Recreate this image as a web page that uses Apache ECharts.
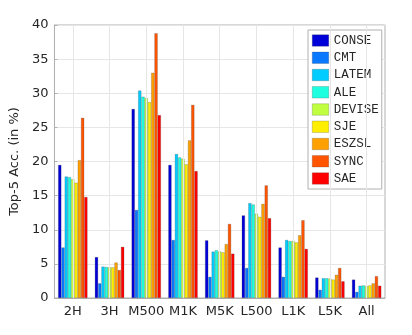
<!DOCTYPE html>
<html>
<head>
<meta charset="utf-8">
<script src="https://cdn.jsdelivr.net/npm/echarts@6/dist/echarts.min.js"></script>
<style>
  html, body { margin: 0; padding: 0; background: #fff; }
  #chart { width: 412px; height: 335px; }
</style>
</head>
<body>
<div id="chart"></div>
<script>
// 类别
const categories = ["2H", "3H", "M500", "M1K", "M5K", "L500", "L1K", "L5K", "All"];
// 方法名
const methods = ["CONSE", "CMT", "LATEM", "ALE", "DEVISE", "SJE", "ESZSL", "SYNC", "SAE"];
// 每个方法的 Top-5 准确率
const CONSE = [19.5, 6.0, 27.7, 19.5, 8.45, 12.1, 7.4, 3.0, 2.7];
const CMT = [7.4, 2.15, 12.9, 8.5, 3.1, 4.4, 3.1, 1.2, 0.9];
const LATEM = [17.8, 4.6, 30.4, 21.1, 6.8, 13.9, 8.5, 2.9, 1.8];
const ALE = [17.7, 4.55, 29.5, 20.6, 7.0, 13.7, 8.35, 2.9, 1.85];
const DEVISE = [17.4, 4.5, 29.3, 20.4, 6.8, 12.35, 8.35, 2.85, 1.75];
const SJE = [16.9, 4.5, 28.7, 19.6, 6.7, 11.9, 8.15, 2.7, 1.85];
const ESZSL = [20.2, 5.2, 33.0, 23.1, 7.9, 13.8, 9.2, 3.4, 2.15];
const SYNC = [26.4, 4.1, 38.8, 28.3, 10.85, 16.5, 11.4, 4.4, 3.2];
const SAE = [14.8, 7.5, 26.8, 18.6, 6.5, 11.7, 7.2, 2.45, 1.8];
const yTicks = [0, 5, 10, 15, 20, 25, 30, 35, 40];

const values = [CONSE, CMT, LATEM, ALE, DEVISE, SJE, ESZSL, SYNC, SAE];
const colors = ["#0000d8", "#0a78ff", "#00ccff", "#1effe0", "#c0ff40", "#ffee00", "#ffa000", "#ff5500", "#ff0000"];

const textColor = "#262626";
const gridColor = "#e6e6e6";

const series = methods.map((name, i) => ({
  name: name,
  type: "bar",
  data: values[i],
  barGap: "0%",
  barCategoryGap: "20%",
  itemStyle: {
    color: colors[i],
    borderColor: "rgba(60,60,60,0.45)",
    borderWidth: 0.5,
  },
  z: 2,
}));

// 竖直网格线画在类别中心（MATLAB 风格）
series.push({
  name: "grid",
  type: "line",
  data: [],
  z: 1,
  silent: true,
  markLine: {
    silent: true,
    symbol: "none",
    label: { show: false },
    lineStyle: { color: gridColor, width: 1, type: "solid" },
    data: categories.map((c) => ({ xAxis: c })),
  },
});

const option = {
  animation: false,
  backgroundColor: "#fff",
  grid: {
    left: 51,
    right: 27,
    top: 25,
    bottom: 37,
    show: true,
    borderColor: "#b0b0b0",
    borderWidth: 1,
  },
  legend: {
    data: methods,
    orient: "vertical",
    left: 308,
    top: 30,
    padding: [4, 3, 4, 4],
    itemWidth: 16.5,
    itemHeight: 11.5,
    itemGap: 4.25,
    backgroundColor: "#fff",
    borderColor: "#b0b0b0",
    borderWidth: 1,
    borderRadius: 0,
    icon: "rect",
    itemStyle: { borderColor: "rgba(60,60,60,0.45)", borderWidth: 0.5 },
    textStyle: {
      fontFamily: "Liberation Mono",
      fontSize: 12.5,
      color: textColor,
    },
  },
  xAxis: {
    type: "category",
    data: categories,
    axisLine: { lineStyle: { color: "#b0b0b0" } },
    axisTick: { show: false },
    splitLine: { show: false },
    axisLabel: {
      fontFamily: "DejaVu Sans",
      fontSize: 13,
      color: textColor,
      margin: 7,
      interval: 0,
    },
  },
  yAxis: {
    type: "value",
    min: 0,
    max: yTicks[yTicks.length - 1],
    interval: 5,
    name: "Top-5 Acc. (in %)",
    nameLocation: "middle",
    nameGap: 26,
    nameTextStyle: { fontFamily: "DejaVu Sans", fontSize: 13, color: textColor },
    axisLine: { show: true, lineStyle: { color: "#b0b0b0" } },
    axisTick: { show: true, inside: true, length: 3, lineStyle: { color: "#b0b0b0" } },
    splitLine: { show: true, lineStyle: { color: gridColor } },
    axisLabel: {
      fontFamily: "DejaVu Sans",
      fontSize: 13,
      color: textColor,
      margin: 6,
    },
  },
  series: series,
};

const chart = echarts.init(document.getElementById("chart"));
chart.setOption(option);
</script>
</body>
</html>
